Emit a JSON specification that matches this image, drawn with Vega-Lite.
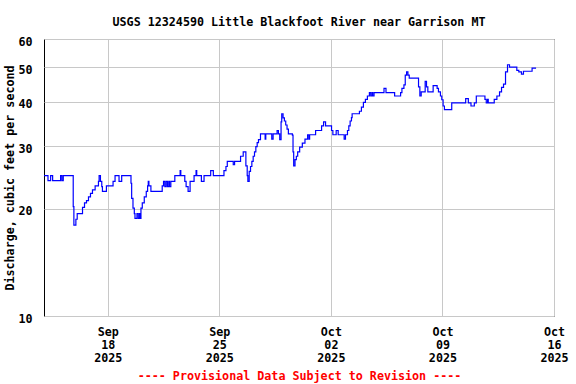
{
  "$schema": "https://vega.github.io/schema/vega-lite/v6.json",
  "width": 510,
  "height": 277,
  "autosize": {"type": "none"},
  "padding": {"left": 44, "top": 39, "right": 22, "bottom": 68},
  "background": "white",
  "title": {
    "text": "USGS 12324590 Little Blackfoot River near Garrison MT",
    "anchor": "middle",
    "font": "DejaVu Sans Mono",
    "fontSize": 11.7,
    "fontWeight": "bold",
    "color": "black",
    "baseline": "alphabetic",
    "offset": -2
  },
  "config": {
    "view": {"stroke": "black", "strokeWidth": 1},
    "axis": {
      "labelFont": "DejaVu Sans Mono",
      "labelFontSize": 11.7,
      "labelFontWeight": "bold",
      "labelColor": "black",
      "titleFont": "DejaVu Sans Mono",
      "titleFontSize": 11.7,
      "titleFontWeight": "bold",
      "titleColor": "black",
      "domain": false,
      "ticks": false,
      "grid": true,
      "gridColor": "#c8c8c8",
      "gridWidth": 1,
      "labelFlush": false,
      "labelOverlap": false,
      "labelBound": false
    }
  },
  "data": {
    "values": [
      {"t": "2025-09-14T00:00", "q": 24.8},
      {"t": "2025-09-14T06:00", "q": 24.0},
      {"t": "2025-09-14T10:00", "q": 24.8},
      {"t": "2025-09-14T13:00", "q": 24.0},
      {"t": "2025-09-15T01:00", "q": 24.8},
      {"t": "2025-09-15T03:00", "q": 24.0},
      {"t": "2025-09-15T05:00", "q": 24.8},
      {"t": "2025-09-15T20:00", "q": 20.3},
      {"t": "2025-09-15T21:00", "q": 18.0},
      {"t": "2025-09-16T00:00", "q": 18.7},
      {"t": "2025-09-16T02:00", "q": 19.4},
      {"t": "2025-09-16T10:00", "q": 20.2},
      {"t": "2025-09-16T13:00", "q": 20.8},
      {"t": "2025-09-16T16:00", "q": 21.1},
      {"t": "2025-09-16T19:00", "q": 21.6},
      {"t": "2025-09-16T22:00", "q": 22.1},
      {"t": "2025-09-17T01:00", "q": 22.6},
      {"t": "2025-09-17T05:00", "q": 23.2},
      {"t": "2025-09-17T10:00", "q": 23.9},
      {"t": "2025-09-17T11:00", "q": 24.8},
      {"t": "2025-09-17T13:00", "q": 23.9},
      {"t": "2025-09-17T15:00", "q": 23.1},
      {"t": "2025-09-17T16:00", "q": 22.4},
      {"t": "2025-09-17T22:00", "q": 23.2},
      {"t": "2025-09-18T08:00", "q": 23.9},
      {"t": "2025-09-18T11:00", "q": 24.8},
      {"t": "2025-09-18T17:00", "q": 23.9},
      {"t": "2025-09-18T21:00", "q": 24.8},
      {"t": "2025-09-19T11:00", "q": 23.6},
      {"t": "2025-09-19T12:00", "q": 21.4},
      {"t": "2025-09-19T14:00", "q": 20.1},
      {"t": "2025-09-19T16:00", "q": 19.4},
      {"t": "2025-09-19T17:00", "q": 18.8},
      {"t": "2025-09-19T20:00", "q": 19.4},
      {"t": "2025-09-19T22:00", "q": 18.8},
      {"t": "2025-09-20T00:00", "q": 19.4},
      {"t": "2025-09-20T01:00", "q": 18.8},
      {"t": "2025-09-20T02:00", "q": 20.1},
      {"t": "2025-09-20T04:00", "q": 20.8},
      {"t": "2025-09-20T07:00", "q": 21.6},
      {"t": "2025-09-20T10:00", "q": 22.4},
      {"t": "2025-09-20T12:00", "q": 23.2},
      {"t": "2025-09-20T13:00", "q": 23.9},
      {"t": "2025-09-20T14:00", "q": 23.2},
      {"t": "2025-09-20T17:00", "q": 22.4},
      {"t": "2025-09-21T10:00", "q": 23.2},
      {"t": "2025-09-21T12:00", "q": 23.9},
      {"t": "2025-09-21T14:00", "q": 23.1},
      {"t": "2025-09-21T16:00", "q": 23.9},
      {"t": "2025-09-21T18:00", "q": 23.1},
      {"t": "2025-09-21T20:00", "q": 23.9},
      {"t": "2025-09-21T21:00", "q": 23.1},
      {"t": "2025-09-21T23:00", "q": 23.9},
      {"t": "2025-09-22T05:00", "q": 24.8},
      {"t": "2025-09-22T13:00", "q": 25.6},
      {"t": "2025-09-22T14:00", "q": 24.8},
      {"t": "2025-09-22T20:00", "q": 23.9},
      {"t": "2025-09-22T22:00", "q": 23.1},
      {"t": "2025-09-23T01:00", "q": 22.4},
      {"t": "2025-09-23T04:00", "q": 23.9},
      {"t": "2025-09-23T10:00", "q": 24.8},
      {"t": "2025-09-23T13:00", "q": 25.6},
      {"t": "2025-09-23T14:00", "q": 24.8},
      {"t": "2025-09-23T21:00", "q": 23.9},
      {"t": "2025-09-24T01:00", "q": 24.8},
      {"t": "2025-09-24T11:00", "q": 25.6},
      {"t": "2025-09-24T15:00", "q": 24.8},
      {"t": "2025-09-25T07:00", "q": 25.6},
      {"t": "2025-09-25T10:00", "q": 26.3},
      {"t": "2025-09-25T12:00", "q": 27.2},
      {"t": "2025-09-25T21:00", "q": 26.6},
      {"t": "2025-09-25T23:00", "q": 27.2},
      {"t": "2025-09-26T08:00", "q": 28.1},
      {"t": "2025-09-26T12:00", "q": 28.9},
      {"t": "2025-09-26T16:00", "q": 26.4},
      {"t": "2025-09-26T18:00", "q": 24.8},
      {"t": "2025-09-26T19:00", "q": 23.9},
      {"t": "2025-09-26T21:00", "q": 25.5},
      {"t": "2025-09-26T23:00", "q": 26.3},
      {"t": "2025-09-27T01:00", "q": 27.2},
      {"t": "2025-09-27T03:00", "q": 28.1},
      {"t": "2025-09-27T05:00", "q": 28.9},
      {"t": "2025-09-27T07:00", "q": 29.9},
      {"t": "2025-09-27T09:00", "q": 30.7},
      {"t": "2025-09-27T11:00", "q": 31.3},
      {"t": "2025-09-27T14:00", "q": 32.5},
      {"t": "2025-09-27T21:00", "q": 31.4},
      {"t": "2025-09-27T22:00", "q": 32.5},
      {"t": "2025-09-28T07:00", "q": 31.4},
      {"t": "2025-09-28T09:00", "q": 32.5},
      {"t": "2025-09-28T15:00", "q": 33.2},
      {"t": "2025-09-28T17:00", "q": 32.5},
      {"t": "2025-09-28T19:00", "q": 31.3},
      {"t": "2025-09-28T21:00", "q": 35.1},
      {"t": "2025-09-28T22:00", "q": 37.0},
      {"t": "2025-09-29T00:00", "q": 36.0},
      {"t": "2025-09-29T02:00", "q": 35.3},
      {"t": "2025-09-29T04:00", "q": 34.4},
      {"t": "2025-09-29T06:00", "q": 33.5},
      {"t": "2025-09-29T08:00", "q": 32.5},
      {"t": "2025-09-29T14:00", "q": 32.2},
      {"t": "2025-09-29T15:00", "q": 28.9},
      {"t": "2025-09-29T16:00", "q": 26.4},
      {"t": "2025-09-29T18:00", "q": 27.5},
      {"t": "2025-09-29T20:00", "q": 28.1},
      {"t": "2025-09-29T22:00", "q": 28.9},
      {"t": "2025-09-30T01:00", "q": 29.8},
      {"t": "2025-09-30T05:00", "q": 30.6},
      {"t": "2025-09-30T09:00", "q": 31.4},
      {"t": "2025-09-30T13:00", "q": 32.3},
      {"t": "2025-09-30T15:00", "q": 31.4},
      {"t": "2025-09-30T16:00", "q": 32.3},
      {"t": "2025-10-01T01:00", "q": 33.2},
      {"t": "2025-10-01T10:00", "q": 34.2},
      {"t": "2025-10-01T13:00", "q": 35.1},
      {"t": "2025-10-01T16:00", "q": 34.2},
      {"t": "2025-10-02T01:00", "q": 33.2},
      {"t": "2025-10-02T03:00", "q": 32.3},
      {"t": "2025-10-02T08:00", "q": 33.2},
      {"t": "2025-10-02T11:00", "q": 32.3},
      {"t": "2025-10-02T20:00", "q": 31.4},
      {"t": "2025-10-02T22:00", "q": 32.3},
      {"t": "2025-10-03T01:00", "q": 33.2},
      {"t": "2025-10-03T03:00", "q": 34.2},
      {"t": "2025-10-03T05:00", "q": 35.3},
      {"t": "2025-10-03T07:00", "q": 36.1},
      {"t": "2025-10-03T08:00", "q": 37.0},
      {"t": "2025-10-03T19:00", "q": 37.6},
      {"t": "2025-10-03T22:00", "q": 38.6},
      {"t": "2025-10-04T01:00", "q": 39.8},
      {"t": "2025-10-04T04:00", "q": 40.6},
      {"t": "2025-10-04T07:00", "q": 41.5},
      {"t": "2025-10-04T10:00", "q": 42.4},
      {"t": "2025-10-04T12:00", "q": 41.5},
      {"t": "2025-10-04T14:00", "q": 42.4},
      {"t": "2025-10-04T15:00", "q": 41.5},
      {"t": "2025-10-04T17:00", "q": 42.4},
      {"t": "2025-10-05T08:00", "q": 43.6},
      {"t": "2025-10-05T11:00", "q": 42.4},
      {"t": "2025-10-06T00:00", "q": 41.5},
      {"t": "2025-10-06T09:00", "q": 42.4},
      {"t": "2025-10-06T11:00", "q": 43.6},
      {"t": "2025-10-06T14:00", "q": 44.6},
      {"t": "2025-10-06T16:00", "q": 47.5},
      {"t": "2025-10-06T18:00", "q": 48.5},
      {"t": "2025-10-06T20:00", "q": 47.5},
      {"t": "2025-10-06T22:00", "q": 46.6},
      {"t": "2025-10-07T12:00", "q": 44.0},
      {"t": "2025-10-07T14:00", "q": 41.5},
      {"t": "2025-10-07T16:00", "q": 42.6},
      {"t": "2025-10-07T22:00", "q": 45.6},
      {"t": "2025-10-08T00:00", "q": 44.0},
      {"t": "2025-10-08T02:00", "q": 42.6},
      {"t": "2025-10-08T10:00", "q": 44.4},
      {"t": "2025-10-08T16:00", "q": 43.6},
      {"t": "2025-10-08T18:00", "q": 42.6},
      {"t": "2025-10-08T21:00", "q": 41.5},
      {"t": "2025-10-08T23:00", "q": 40.5},
      {"t": "2025-10-09T01:00", "q": 38.9},
      {"t": "2025-10-09T03:00", "q": 38.0},
      {"t": "2025-10-09T14:00", "q": 39.7},
      {"t": "2025-10-10T11:00", "q": 40.8},
      {"t": "2025-10-10T15:00", "q": 39.7},
      {"t": "2025-10-10T19:00", "q": 38.9},
      {"t": "2025-10-11T00:00", "q": 39.7},
      {"t": "2025-10-11T03:00", "q": 41.5},
      {"t": "2025-10-11T16:00", "q": 40.6},
      {"t": "2025-10-11T18:00", "q": 39.7},
      {"t": "2025-10-11T20:00", "q": 40.6},
      {"t": "2025-10-11T21:00", "q": 39.7},
      {"t": "2025-10-12T06:00", "q": 40.6},
      {"t": "2025-10-12T10:00", "q": 41.5},
      {"t": "2025-10-12T14:00", "q": 42.6},
      {"t": "2025-10-12T17:00", "q": 43.9},
      {"t": "2025-10-12T20:00", "q": 44.8},
      {"t": "2025-10-12T23:00", "q": 48.5},
      {"t": "2025-10-13T02:00", "q": 50.8},
      {"t": "2025-10-13T05:00", "q": 50.0},
      {"t": "2025-10-13T16:00", "q": 49.0},
      {"t": "2025-10-13T19:00", "q": 48.5},
      {"t": "2025-10-13T23:00", "q": 47.8},
      {"t": "2025-10-14T02:00", "q": 48.7},
      {"t": "2025-10-14T15:00", "q": 49.7},
      {"t": "2025-10-14T21:00", "q": 49.7}
    ]
  },
  "mark": {"type": "line", "interpolate": "step-after", "color": "#0000ff", "strokeWidth": 1.2},
  "encoding": {
    "x": {
      "field": "t",
      "type": "temporal",
      "scale": {
        "domain": [
          {"year": 2025, "month": 9, "date": 14},
          {"year": 2025, "month": 10, "date": 16}
        ]
      },
      "axis": {
        "values": [
          {"year": 2025, "month": 9, "date": 18},
          {"year": 2025, "month": 9, "date": 25},
          {"year": 2025, "month": 10, "date": 2},
          {"year": 2025, "month": 10, "date": 9},
          {"year": 2025, "month": 10, "date": 16}
        ],
        "labelExpr": "[timeFormat(datum.value, '%b'), timeFormat(datum.value, '%d'), timeFormat(datum.value, '%Y')]",
        "labelLineHeight": 13,
        "labelBaseline": "top",
        "labelPadding": 10,
        "title": "---- Provisional Data Subject to Revision ----",
        "titleColor": "#ff0000",
        "titlePadding": 7
      }
    },
    "y": {
      "field": "q",
      "type": "quantitative",
      "scale": {"type": "log", "domain": [10, 60], "nice": false},
      "axis": {
        "values": [10, 20, 30, 40, 50, 60],
        "labelPadding": 12,
        "labelOffset": 2,
        "title": "Discharge, cubic feet per second",
        "titlePadding": 2
      }
    }
  }
}
